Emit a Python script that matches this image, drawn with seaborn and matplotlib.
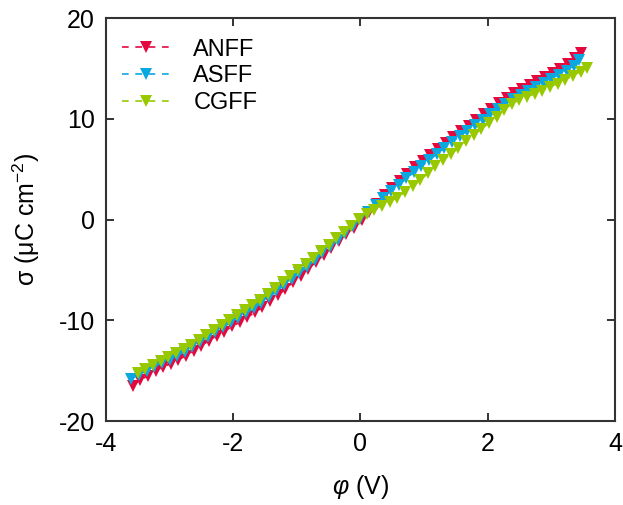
import matplotlib
matplotlib.use("Agg")
import matplotlib.pyplot as plt
import seaborn as sns
import pandas as pd

series_names = ["ANFF", "ASFF", "CGFF"]
series_colors = ["#e5083f", "#0aa7e0", "#98c900"]

anff_phi = [-3.58, -3.46, -3.34, -3.22, -3.10, -2.98, -2.86, -2.74, -2.62, -2.50,
            -2.38, -2.26, -2.14, -2.02, -1.90, -1.78, -1.66, -1.54, -1.42, -1.30,
            -1.18, -1.06, -0.94, -0.82, -0.70, -0.58, -0.46, -0.34, -0.22, -0.10,
            0.02, 0.14, 0.26, 0.38, 0.50, 0.62, 0.74, 0.86, 0.98, 1.10,
            1.22, 1.34, 1.46, 1.58, 1.70, 1.82, 1.94, 2.06, 2.18, 2.30,
            2.42, 2.54, 2.66, 2.78, 2.90, 3.02, 3.14, 3.26, 3.38, 3.47]
anff_sigma = [-16.5, -15.9, -15.5, -15.0, -14.6, -14.3, -13.9, -13.5, -13.0, -12.5,
              -12.0, -11.5, -11.1, -10.6, -10.2, -9.7, -9.2, -8.7, -8.1, -7.5,
              -6.9, -6.2, -5.6, -4.9, -4.2, -3.5, -2.8, -2.1, -1.4, -0.8,
              0.0, 0.8, 1.6, 2.4, 3.1, 3.8, 4.5, 5.2, 5.8, 6.4,
              7.0, 7.6, 8.2, 8.8, 9.3, 9.9, 10.5, 11.0, 11.6, 12.1,
              12.6, 13.0, 13.4, 13.8, 14.2, 14.6, 15.0, 15.5, 16.0, 16.5]

asff_phi = [-3.60, -3.48, -3.36, -3.24, -3.12, -3.00, -2.88, -2.76, -2.64, -2.52,
            -2.40, -2.28, -2.16, -2.04, -1.92, -1.80, -1.68, -1.56, -1.44, -1.32,
            -1.20, -1.08, -0.96, -0.84, -0.72, -0.60, -0.48, -0.36, -0.24, -0.12,
            0.00, 0.12, 0.24, 0.36, 0.48, 0.60, 0.72, 0.84, 0.96, 1.08,
            1.20, 1.32, 1.44, 1.56, 1.68, 1.80, 1.92, 2.04, 2.16, 2.28,
            2.40, 2.52, 2.64, 2.76, 2.88, 3.00, 3.12, 3.24, 3.36, 3.44]
asff_sigma = [-15.8, -15.4, -15.0, -14.6, -14.2, -13.9, -13.5, -13.1, -12.6, -12.1,
              -11.6, -11.1, -10.7, -10.2, -9.8, -9.3, -8.8, -8.3, -7.7, -7.1,
              -6.5, -5.9, -5.3, -4.7, -4.0, -3.3, -2.7, -2.0, -1.3, -0.6,
              0.1, 0.8, 1.5, 2.2, 2.8, 3.4, 4.1, 4.7, 5.3, 5.9,
              6.5, 7.1, 7.7, 8.3, 8.8, 9.4, 9.9, 10.5, 11.0, 11.5,
              12.0, 12.4, 12.8, 13.2, 13.6, 14.0, 14.4, 14.8, 15.3, 15.8]

cgff_phi = [-3.50, -3.38, -3.26, -3.14, -3.02, -2.90, -2.78, -2.66, -2.54, -2.42,
            -2.30, -2.18, -2.06, -1.94, -1.82, -1.70, -1.58, -1.46, -1.34, -1.22,
            -1.10, -0.98, -0.86, -0.74, -0.62, -0.50, -0.38, -0.26, -0.14, -0.02,
            0.10, 0.22, 0.34, 0.46, 0.58, 0.70, 0.82, 0.94, 1.06, 1.18,
            1.30, 1.42, 1.54, 1.66, 1.78, 1.90, 2.02, 2.14, 2.26, 2.38,
            2.50, 2.62, 2.74, 2.86, 2.98, 3.10, 3.22, 3.34, 3.46, 3.56]
cgff_sigma = [-15.2, -14.8, -14.4, -14.0, -13.6, -13.2, -12.8, -12.4, -11.9, -11.4,
              -11.0, -10.5, -10.0, -9.5, -9.0, -8.5, -8.0, -7.4, -6.8, -6.2,
              -5.6, -5.0, -4.4, -3.8, -3.1, -2.5, -1.8, -1.2, -0.6, 0.1,
              0.6, 1.0, 1.4, 1.8, 2.2, 2.7, 3.3, 3.9, 4.6, 5.3,
              5.9, 6.5, 7.1, 7.8, 8.4, 9.0, 9.6, 10.2, 10.9, 11.5,
              11.9, 12.2, 12.5, 12.8, 13.2, 13.5, 13.9, 14.3, 14.7, 15.1]

x_ticks = [-4, -2, 0, 2, 4]
y_ticks = [-20, -10, 0, 10, 20]

sns.set_theme(style="ticks")
plt.rcParams["font.family"] = ["Liberation Sans", "DejaVu Sans"]
plt.rcParams["text.color"] = "black"
plt.rcParams["axes.labelcolor"] = "black"
plt.rcParams["mathtext.fontset"] = "custom"
plt.rcParams["mathtext.rm"] = "Liberation Sans"
plt.rcParams["mathtext.it"] = "Liberation Sans:italic"

fig = plt.figure(figsize=(6.23, 5.05), dpi=100)
ax = fig.add_axes([0.170, 0.166, 0.817, 0.798])

all_phi = [anff_phi, asff_phi, cgff_phi]
all_sigma = [anff_sigma, asff_sigma, cgff_sigma]
for name, col, ph, sg in zip(series_names, series_colors, all_phi, all_sigma):
    df = pd.DataFrame({"phi": ph, "sigma": sg})
    sns.lineplot(data=df, x="phi", y="sigma", ax=ax, color=col, sort=False,
                 linestyle=(0, (4, 4)), linewidth=1.2, marker="v", markersize=9,
                 markeredgewidth=0, label=name)

ax.set_xlim(-4, 4)
ax.set_ylim(-20, 20)
ax.set_xticks(x_ticks)
ax.set_yticks(y_ticks)
ax.set_xticklabels([str(t) for t in x_ticks])
ax.set_yticklabels([str(t) for t in y_ticks])
ax.tick_params(direction="in", length=6, width=1.3, top=True, right=True,
               labelsize=18, colors="#222222", labelcolor="black", pad=8)
for sp in ax.spines.values():
    sp.set_visible(True)
    sp.set_linewidth(1.5)
    sp.set_color("#333333")

ax.set_xlabel(r"$\varphi$ (V)", fontsize=18, labelpad=12)
ax.set_ylabel(r"σ (μC cm$^{-2}$)", fontsize=18, labelpad=12)

leg = ax.legend(loc="upper left", frameon=False, fontsize=17, handlelength=2.0,
                handletextpad=1.0, labelspacing=0.2, borderaxespad=0.3,
                bbox_to_anchor=(0.0, 0.99))
for t in leg.get_texts():
    t.set_color("black")

fig.savefig("out.png", dpi=100)
